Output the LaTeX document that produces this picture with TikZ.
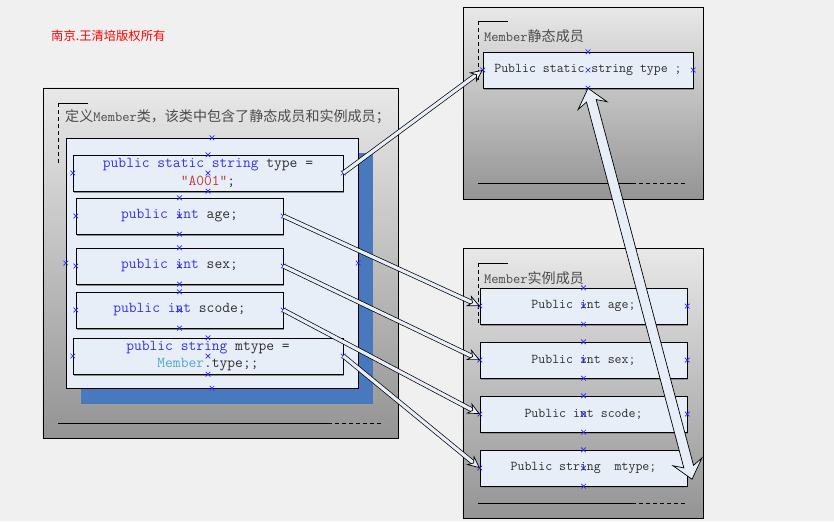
\documentclass[tikz,border=0pt]{standalone}
\usepackage{fontspec}
\newfontfamily\cjk{Noto Sans CJK SC}
\usetikzlibrary{arrows.meta,positioning,calc,shapes.misc,shadows}
\definecolor{bggray}{RGB}{240,240,240}
\definecolor{boxfill}{RGB}{232,238,248}
\definecolor{panelblue}{RGB}{72,120,190}
\definecolor{kwblue}{RGB}{50,50,235}
\definecolor{codegray}{RGB}{45,45,45}
\definecolor{strred}{RGB}{190,55,55}
\definecolor{clsteal}{RGB}{80,170,200}
\definecolor{titlegray}{RGB}{75,75,75}
\newcommand\kw[1]{\textcolor{kwblue}{#1}}
\tikzset{
  outerbox/.style={draw, line width=0.8pt, top color=black!9, bottom color=black!42, inner sep=0pt},
  membox/.style={draw, fill=boxfill, minimum height=1.08cm, inner sep=1pt, align=center,
                 text=codegray, font=\fontsize{12.9}{15}\selectfont\ttfamily,
                 drop shadow={shadow xshift=0.04cm, shadow yshift=-0.05cm, fill=black!45, opacity=1}},
  rbox/.style={membox, font=\fontsize{11.5}{13}\selectfont\ttfamily},
  grptitle/.style={anchor=west, inner sep=0pt, text=titlegray, font=\cjk\fontsize{12}{14}\selectfont},
  cpmark/.style={cross out, draw=blue!85, line width=0.6pt, minimum size=0.12cm, inner sep=0pt},
  linkarrow/.style={draw=black, line width=0.6pt, double=boxfill, double distance=2.8pt,
                    -{Stealth[length=0.38cm, width=0.36cm, inset=0.13cm, fill=boxfill]}},
  bigarrow/.style={draw=black, line width=0.6pt, fill=boxfill, line join=miter},
}

\begin{document}
\begin{tikzpicture}[x=0.03cm, y=-0.03cm]
\fill[bggray] (0,0) rectangle (834,521);
\useasboundingbox (0,0) rectangle (834,521);

\node[anchor=west, inner sep=0pt, text=red, font=\cjk\fontsize{10.5}{12}\selectfont] (copy) at (51,36) {南京.王清培版权所有};

% --- Member class ---
\node[outerbox, minimum width=10.65cm, minimum height=10.5cm] (cls) at (220.5,263) {};
\draw[thin] (58,103) -- (88,103);
\draw[thin, dashed] (58,103) -- (58,163);
\node[grptitle] (clstitle) at (65,117) {定义{\ttfamily Member}类，该类中包含了静态成员和实例成员；};
\draw[thin] (58,423) -- (328,423);
\draw[thin, dashed] (328,423) -- (382,423);
\fill[panelblue] (81,153) rectangle (373,404);
\node[draw, fill=boxfill, minimum width=8.76cm, minimum height=7.5cm] (pnl) at (212,263) {};
\foreach \a in {north,south,west,east}
  \node[cpmark] (pnl-\a) at (pnl.\a) {};

\node[membox, minimum width=8.1cm] (st) at (208,173) {\kw{public static string} type =\\\textcolor{strred}{”A001”};};
\node[membox, minimum width=6.21cm] (ag) at (179.5,216) {\kw{public int} age;};
\node[membox, minimum width=6.21cm] (sx) at (179.5,266) {\kw{public int} sex;};
\node[membox, minimum width=6.21cm] (sc) at (179.5,310) {\kw{public int} scode;};
\node[membox, minimum width=8.1cm] (mt) at (208,356) {\kw{public string} mtype =\\\textcolor{clsteal}{Member}.type;;};

% --- static members ---
\node[outerbox, minimum width=7.2cm, minimum height=5.76cm] (stat) at (583,103) {};
\draw[thin] (478,21) -- (508,21);
\draw[thin, dashed] (478,21) -- (478,80);
\node[grptitle] (stattitle) at (484,36) {{\ttfamily Member}静态成员};
\draw[thin] (478,183) -- (632,183);
\draw[thin, dashed] (632,183) -- (687,183);
\node[rbox, minimum width=6.3cm] (rs) at (588,70) {Public static string type ;};

% --- instance members ---
\node[outerbox, minimum width=7.2cm, minimum height=8.1cm] (inst) at (583,383) {};
\draw[thin] (478,263) -- (508,263);
\draw[thin, dashed] (478,263) -- (478,323);
\node[grptitle] (insttitle) at (484,278) {{\ttfamily Member}实例成员};
\draw[thin] (478,503) -- (632,503);
\draw[thin, dashed] (632,503) -- (687,503);
\node[rbox, minimum width=6.21cm] (ia) at (583.5,306) {Public int age;};
\node[rbox, minimum width=6.21cm] (is) at (583.5,360) {Public int sex;};
\node[rbox, minimum width=6.21cm] (ic) at (583.5,414) {Public int scode;};
\node[rbox, minimum width=6.21cm] (im) at (583.5,468) {Public string\ \ mtype;};

\foreach \n in {st,ag,sx,sc,mt,rs,ia,is,ic,im}
  \foreach \a in {north,center,south,west,east}
    \node[cpmark] (\n-\a) at (\n.\a) {};

% links
\draw[linkarrow] (st.east) -- (rs.west);
\draw[linkarrow] (ag.east) -- (ia.west);
\draw[linkarrow] (sx.east) -- (is.west);
\draw[linkarrow] (sc.east) -- (ic.west);
\draw[linkarrow] (mt.east) -- (im.west);

% double block arrow
\begin{scope}[shift={(rs.south)}, rotate=-75.1]
\draw[bigarrow] (0,0) -- (18,15) -- (13,5) -- (391.6,5) -- (386.6,15) -- (404.6,0)
  -- (386.6,-15) -- (391.6,-5) -- (13,-5) -- (18,-15) -- cycle;
\end{scope}
\end{tikzpicture}
\end{document}
